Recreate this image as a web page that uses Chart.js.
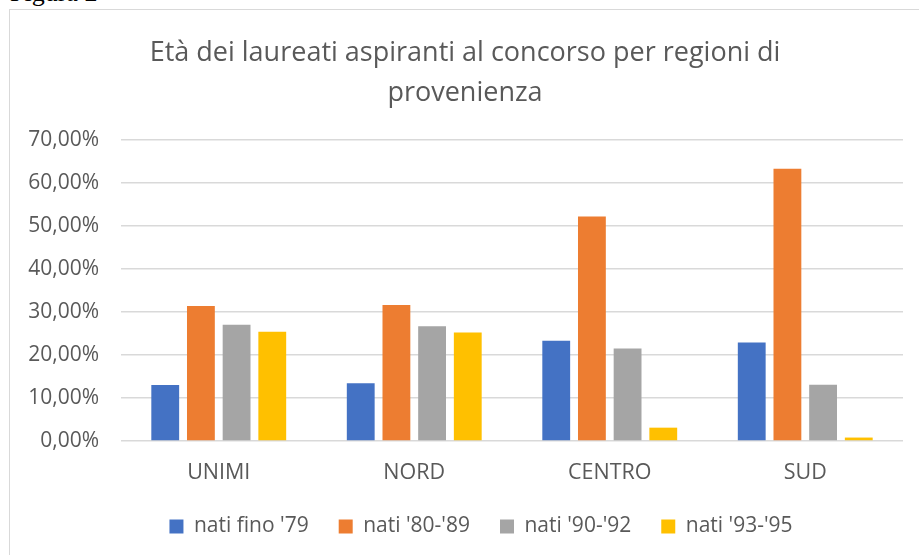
<!DOCTYPE html>
<html><head><meta charset="utf-8">
<script src="https://cdn.jsdelivr.net/npm/chart.js@4.4.0/dist/chart.umd.min.js"></script>
<style>
html,body{margin:0;padding:0;background:#fff;}
body{width:919px;height:555px;overflow:hidden;position:relative;}
#fig{position:absolute;left:10px;top:-22px;font:26px "Liberation Serif",serif;color:#000;line-height:30px;}
#frame{position:absolute;left:9px;top:9px;width:960px;height:600px;border:1.5px solid #d9d9d9;box-sizing:border-box;}
#wrap{position:absolute;left:0;top:0;width:919px;height:555px;}
</style></head>
<body>
<div id="fig">Figura 2</div>
<div id="frame"></div>
<div id="wrap"><canvas id="c" width="919" height="555"></canvas></div>
<script>
const categories = ["UNIMI", "NORD", "CENTRO", "SUD"];
const seriesNames = ["nati fino '79", "nati '80-'89", "nati '90-'92", "nati '93-'95"];
const natiFino79 = [13.0, 13.4, 23.3, 22.9];
const nati80_89 = [31.4, 31.6, 52.2, 63.3];
const nati90_92 = [27.0, 26.7, 21.5, 13.1];
const nati93_95 = [25.4, 25.2, 3.1, 0.8];
const yTicks = [0, 10, 20, 30, 40, 50, 60, 70];
const colors = ["#4472C4", "#ED7D31", "#A5A5A5", "#FFC000"];
const FONT = "'Open Sans', sans-serif";
const TXT = "#595959";

const legendShift = {
  id: 'legendShift',
  afterLayout(chart) {
    const lg = chart.legend;
    if (lg) { lg.left += 16; lg.right += 16; }
  }
};

const values = [natiFino79, nati80_89, nati90_92, nati93_95];
new Chart(document.getElementById('c'), {
  type: 'bar',
  data: {
    labels: categories,
    datasets: values.map((v, i) => ({
      label: seriesNames[i], data: v, backgroundColor: colors[i],
      borderWidth: 0, categoryPercentage: 0.73, barPercentage: 0.78
    }))
  },
  plugins: [legendShift],
  options: {
    responsive: false, animation: false,
    layout: { padding: { left: 27, right: 16, top: 0, bottom: 8 } },
    plugins: {
      title: {
        display: true,
        text: ["Età dei laureati aspiranti al concorso per regioni di", "provenienza"],
        color: TXT, font: { family: FONT, size: 27, weight: 'normal', lineHeight: 1.48 },
        padding: { top: 33, bottom: 27 }
      },
      legend: {
        position: 'bottom',
        labels: { color: TXT, font: { family: FONT, size: 21 }, boxWidth: 14, boxHeight: 14, padding: 30 }
      },
      tooltip: { enabled: false }
    },
    scales: {
      x: {
        grid: { display: false, drawTicks: false }, border: { display: false },
        ticks: { color: TXT, font: { family: FONT, size: 21.5 }, padding: 19 },
        afterFit(s) { s.height = 45; }
      },
      y: {
        min: 0, max: 70,
        afterBuildTicks(s) { s.ticks = yTicks.map(v => ({ value: v })); },
        grid: { color: "#D9D9D9", lineWidth: 1.5, drawTicks: false },
        border: { display: false },
        ticks: { color: TXT, font: { family: FONT, size: 21 }, padding: 22,
          callback: v => v.toFixed(2).replace('.', ',') + '%' },
        afterFit(s) { s.width = 94; }
      }
    }
  }
});
</script>
</body></html>
